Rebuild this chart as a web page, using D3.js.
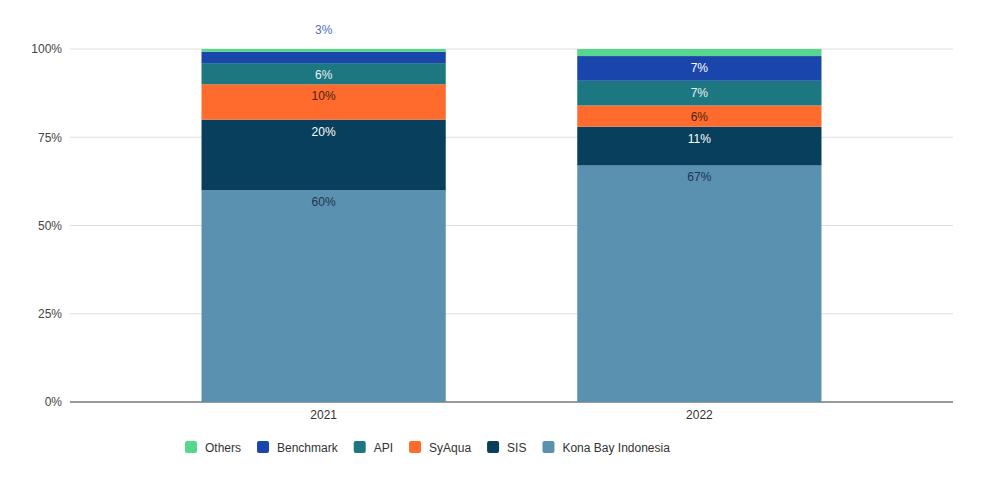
<!DOCTYPE html>
<html>
<head>
<meta charset="utf-8">
<script src="https://cdn.jsdelivr.net/npm/d3@7"></script>
<style>
  body { margin: 0; background: #fff; }
  svg { font-family: "Liberation Sans", Arial, sans-serif; }
</style>
</head>
<body>
<script>
// chart data
var years = ["2021", "2022"];
var seriesNames = ["Kona Bay Indonesia", "SIS", "SyAqua", "API", "Benchmark", "Others"];
var konaBay = [60, 67];
var sis = [20, 11];
var syAqua = [10, 6];
var api = [6, 7];
var benchmark = [3.2, 7];
var others = [0.8, 2];
var yTicks = [0, 25, 50, 75, 100];
var legendOrder = ["Others", "Benchmark", "API", "SyAqua", "SIS", "Kona Bay Indonesia"];

// styles
var colors = {
  "Kona Bay Indonesia": "#5a91b1",
  "SIS": "#083f5c",
  "SyAqua": "#ff6b2c",
  "API": "#1d7781",
  "Benchmark": "#1a45ab",
  "Others": "#57d68d"
};
var labelColors = {
  "Kona Bay Indonesia": "#1d3650",
  "SIS": "#ffffff",
  "SyAqua": "#4a2415",
  "API": "#e6f2f2",
  "Benchmark": "#ffffff",
  "Others": "#1d3650"
};

var w = 985, h = 488;
var margin = {top: 49, right: 32, bottom: 86, left: 70};

var svg = d3.select("body")
            .append("svg")
            .attr("width", w)
            .attr("height", h);

// build rows for the stack
var valuesBySeries = {
  "Kona Bay Indonesia": konaBay,
  "SIS": sis,
  "SyAqua": syAqua,
  "API": api,
  "Benchmark": benchmark,
  "Others": others
};
var rows = years.map(function(y, i) {
  var r = {year: y};
  seriesNames.forEach(function(s) { r[s] = valuesBySeries[s][i]; });
  return r;
});
var stacked = d3.stack().keys(seriesNames)(rows);

var xScale = d3.scaleBand()
               .domain(years)
               .range([margin.left, w - margin.right])
               .paddingInner(0.35)
               .paddingOuter(0.35);

var yScale = d3.scaleLinear()
               .domain([0, 100])
               .range([h - margin.bottom, margin.top]);

// gridlines
svg.append("g")
   .selectAll("line")
   .data(yTicks)
   .enter()
   .append("line")
   .attr("x1", margin.left)
   .attr("x2", w - margin.right)
   .attr("y1", function(d) { return yScale(d); })
   .attr("y2", function(d) { return yScale(d); })
   .style("stroke", function(d) { return d === 0 ? "#999" : "#dedede"; })
   .style("stroke-width", function(d) { return d === 0 ? 2 : 1; });

// y axis labels
var yAxis = d3.axisLeft(yScale)
              .tickValues(yTicks)
              .tickSize(0)
              .tickPadding(8)
              .tickFormat(function(d) { return d + "%"; });
svg.append("g")
   .attr("transform", "translate(" + margin.left + ",0)")
   .call(yAxis)
   .call(function(g) { g.select(".domain").remove(); })
   .selectAll("text")
   .style("font-size", "12px")
   .style("fill", "#444")
   .style("font-family", "'Liberation Sans', Arial, sans-serif");

// x axis labels
var xAxis = d3.axisBottom(xScale).tickSize(0).tickPadding(8);
svg.append("g")
   .attr("transform", "translate(0," + (h - margin.bottom) + ")")
   .call(xAxis)
   .call(function(g) { g.select(".domain").remove(); })
   .selectAll("text")
   .style("font-size", "12px")
   .style("fill", "#333")
   .style("font-family", "'Liberation Sans', Arial, sans-serif");

// bars
var layers = svg.append("g")
   .selectAll("g")
   .data(stacked)
   .enter()
   .append("g")
   .style("fill", function(d) { return colors[d.key]; });

layers.selectAll("rect")
   .data(function(d) { return d; })
   .enter()
   .append("rect")
   .attr("x", function(d) { return xScale(d.data.year); })
   .attr("width", xScale.bandwidth())
   .attr("y", function(d) { return yScale(d[1]); })
   .attr("height", function(d) { return yScale(d[0]) - yScale(d[1]); });

// value labels
stacked.forEach(function(layer) {
  layer.forEach(function(d) {
    var v = d[1] - d[0];
    var cx = xScale(d.data.year) + xScale.bandwidth() / 2;
    if (v >= 5) {
      svg.append("text")
         .attr("x", cx)
         .attr("y", yScale(d[1]) + 16)
         .attr("text-anchor", "middle")
         .style("font-size", "12px")
         .style("font-weight", "500")
         .style("fill", labelColors[layer.key])
         .text(Math.round(v) + "%");
    } else if (v >= 3) {
      svg.append("text")
         .attr("x", cx)
         .attr("y", yScale(100) - 15)
         .attr("text-anchor", "middle")
         .style("font-size", "12px")
         .style("fill", "#4f70bb")
         .text(Math.round(v) + "%");
    }
  });
});

// legend
var legend = svg.append("g").attr("transform", "translate(185,447)");
var lx = 0;
legendOrder.forEach(function(name) {
  var item = legend.append("g").attr("transform", "translate(" + lx + ",0)");
  item.append("rect")
      .attr("x", 0)
      .attr("y", -6)
      .attr("width", 12)
      .attr("height", 12)
      .attr("rx", 2)
      .style("fill", colors[name]);
  var t = item.append("text")
      .attr("x", 20)
      .attr("y", 4.5)
      .style("font-size", "12px")
      .style("fill", "#333")
      .text(name);
  lx += 20 + t.node().getComputedTextLength() + 16;
});
</script>
</body>
</html>
